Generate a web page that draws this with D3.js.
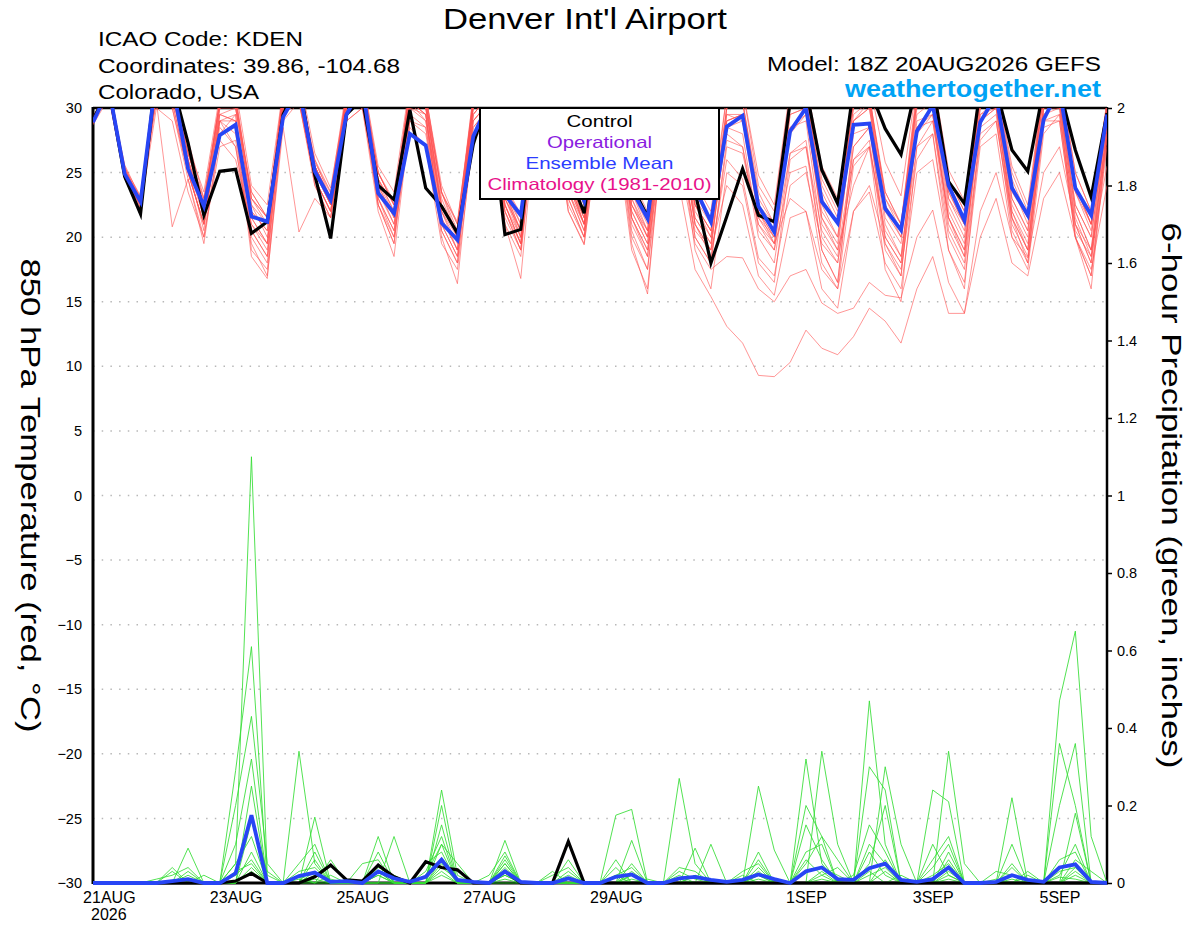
<!DOCTYPE html>
<html><head><meta charset="utf-8">
<script src="https://cdn.jsdelivr.net/npm/d3@7"></script>
<style>
body{margin:0;background:#fff}
svg{display:block}
text{font-family:"Liberation Sans",Arial,Helvetica,sans-serif}
</style>
</head><body>
<svg id="c" width="1200" height="927"></svg>
<script>
// ---------------- DATA ----------------
const startTime = "2026-08-20T18:00:00Z";
const stepHours = 6;

const tempControl = [29.1,
 31.5,24.7,21.8, 32.9,32.0,27.3,21.7, 25.1,25.25,20.3,21.2, 29.5,32.0,24.8,19.9,
 29.5,30.7,24.0,22.9, 29.85,23.8,22.4,20.3, 27.2,31.0,20.2,20.6, 31.0,31.0,25.0,21.85,
 31.0,31.0,24.0,21.6, 31.0,30.0,23.5,18.0, 21.6,25.3,21.7,21.2, 30.5,31.5,25.2,22.6,
 31.5,31.5,28.4,26.4, 32.0,32.0,24.3,22.6, 31.5,31.5,26.75,25.1, 31.5,31.5,26.75,23.1, 29.6];

const tempMean = [28.9,
 31.5,24.9,22.75, 32.5,32.0,25.3,22.4, 27.9,28.7,21.6,21.2, 29.3,31.5,25.1,22.9,
 29.5,31.7,23.4,21.85, 28.0,27.1,21.1,19.8, 27.8,30.5,23.3,21.7, 31.0,31.0,25.5,22.8,
 30.5,31.0,23.7,21.45, 30.5,30.2,23.8,21.2, 28.55,29.4,22.4,20.4, 28.2,30.0,22.75,21.1,
 28.7,28.8,22.2,20.55, 28.2,30.2,24.0,21.3, 28.9,31.0,23.8,21.7, 29.1,31.5,23.8,21.7, 29.5];

const tempMember01 = [29.0, 31.5,24.8,22.3, 32.5,32.0,26.5,22.8, 30.5,30.8,23.0,21.5, 31.0,32.0,25.8,23.4, 30.8,32.0,25.0,22.8, 31.5,30.5,23.4,21.2, 30.5,32.0,24.0,21.8, 32.5,32.0,25.5,22.6, 32.0,32.5,24.5,22.0, 32.0,31.5,24.2,22.0, 31.0,31.5,24.8,22.5, 31.5,32.0,25.5,23.0, 31.5,32.0,25.8,23.2, 32.0,32.5,25.2,22.8, 32.0,32.0,25.5,22.5, 32.0,32.5,25.0,22.0, 30.5];
const tempMember02 = [29.2, 31.0,25.2,22.6, 31.5,31.0,25.8,22.0, 29.5,29.0,22.0,20.5, 30.5,31.5,25.0,22.5, 30.0,31.5,24.2,21.8, 30.5,29.5,22.0,20.0, 29.5,31.0,23.0,20.5, 31.5,31.5,24.5,21.5, 31.0,31.5,23.0,20.5, 30.5,30.0,22.5,20.5, 30.0,30.5,23.5,21.0, 30.5,31.0,24.0,21.5, 30.0,30.5,23.5,21.0, 30.5,31.0,23.5,21.0, 30.5,31.0,24.0,21.5, 31.0,31.0,24.0,21.0, 29.5];
const tempMember03 = [28.8, 31.2,24.6,22.9, 30.5,20.8,24.5,20.0, 27.0,27.5,20.5,18.5, 29.5,31.0,25.5,23.0, 29.5,31.0,23.0,20.5, 29.0,28.0,21.0,18.5, 28.0,30.0,22.0,19.5, 31.0,30.5,23.5,20.5, 30.5,30.0,21.0,18.5, 29.0,28.5,21.0,19.0, 29.0,29.5,22.0,19.5, 29.5,30.0,21.5,19.5, 29.0,30.0,22.5,20.0, 29.5,30.5,22.5,20.0, 30.0,30.5,23.0,20.5, 30.0,30.5,22.5,20.0, 29.0];
const tempMember04 = [29.0, 31.5,25.0,22.7, 32.0,31.5,26.0,21.5, 29.0,28.0,21.0,19.5, 30.5,31.5,24.5,22.0, 30.5,31.5,23.8,21.0, 30.0,29.0,22.5,20.5, 29.0,30.5,23.5,20.5, 31.0,31.0,24.0,21.0, 30.0,30.5,21.5,19.0, 27.0,24.0,17.5,15.4, 13.1,11.8,9.3,9.2, 10.3,12.8,11.4,10.9, 12.3,14.5,13.5,11.8, 16.0,18.5,14.1,14.1, 20.0,23.0,18.0,17.0, 23.0,25.0,20.0,17.5, 24.0];
const tempMember05 = [29.1, 31.0,25.5,22.5, 31.0,30.5,25.0,21.0, 28.5,27.0,20.0,18.0, 30.0,30.5,25.5,22.5, 29.5,30.5,22.5,19.5, 29.5,28.5,21.5,19.0, 28.5,30.0,22.0,19.0, 30.5,31.0,23.0,20.0, 29.5,29.5,20.5,17.5, 27.5,26.0,19.5,17.5, 18.5,18.4,16.0,15.0, 17.0,17.5,14.9,14.1, 14.5,16.5,15.5,15.3, 20.0,22.1,16.5,14.1, 22.0,25.0,20.0,18.4, 25.0,27.0,21.0,19.0, 25.5];
const tempMember06 = [28.9, 31.8,25.4,23.2, 33.0,32.5,27.0,23.5, 31.0,31.5,24.0,22.5, 31.5,32.5,26.5,23.8, 31.0,32.5,25.5,23.5, 32.0,31.0,24.0,21.0, 30.5,32.0,23.5,21.0, 32.0,32.5,25.0,22.0, 32.0,32.0,23.5,21.0, 31.0,30.5,23.5,21.5, 28.0,27.0,21.0,19.0, 28.5,29.5,22.0,20.0, 29.0,30.5,21.5,19.5, 30.5,31.0,23.5,21.0, 31.0,31.5,24.0,21.5, 31.5,31.5,23.5,21.0, 30.0];
const tempMember07 = [29.0, 31.0,24.5,22.0, 31.0,30.0,24.5,19.5, 28.0,29.5,19.0,17.5, 29.0,30.5,24.0,21.5, 29.8,30.5,22.5,20.0, 30.5,29.5,20.5,18.0, 29.0,30.5,21.0,18.5, 30.0,30.5,22.5,20.0, 30.5,30.0,20.0,17.5, 29.5,29.0,21.0,18.5, 26.0,24.5,18.4,17.0, 24.0,25.0,19.5,18.0, 26.0,27.0,20.5,18.5, 28.0,29.5,21.0,18.5, 29.5,30.5,22.0,19.0, 30.0,30.0,21.5,18.5, 28.5];
const tempMember08 = [29.3, 31.4,25.0,23.0, 32.0,31.5,26.5,22.5, 30.0,30.0,22.5,21.0, 31.0,32.0,26.0,23.5, 31.5,32.5,25.0,22.5, 31.0,30.0,22.5,20.5, 30.0,31.5,23.0,20.0, 31.5,31.5,24.5,21.0, 31.5,31.5,22.5,20.0, 30.5,30.5,22.0,20.0, 29.5,29.0,22.5,20.5, 29.5,30.0,21.0,19.0, 29.5,30.5,22.5,20.5, 30.5,31.5,23.0,20.5, 31.0,31.5,23.5,21.5, 31.5,32.0,24.0,21.0, 30.0];
const tempMember09 = [28.7, 30.8,24.5,22.5, 31.5,30.0,25.0,21.0, 29.0,27.0,19.5,17.0, 28.5,20.4,23.0,21.5, 29.0,30.0,23.0,20.0, 28.5,27.0,19.5,17.5, 27.5,29.0,21.5,19.0, 29.5,30.0,22.0,19.5, 29.0,28.5,19.0,16.0, 28.5,27.5,20.0,18.0, 27.5,27.0,20.0,18.0, 26.5,27.5,19.0,16.5, 28.0,28.5,19.5,17.0, 28.5,29.0,20.5,18.0, 28.0,29.0,21.5,19.0, 29.0,29.5,20.5,18.5, 28.0];
const tempMember10 = [29.0, 31.2,25.1,22.8, 32.0,31.0,27.5,23.0, 30.5,30.0,23.5,21.5, 30.5,31.0,26.0,23.0, 30.5,31.5,25.0,22.5, 31.5,30.0,23.0,20.0, 30.0,31.0,22.5,19.5, 32.0,32.0,26.0,22.5, 31.5,31.0,22.0,19.5, 30.0,29.5,22.5,20.0, 30.0,30.5,23.0,21.0, 31.0,31.5,23.0,21.0, 30.5,31.0,23.0,20.5, 31.0,31.5,24.5,22.0, 31.0,31.5,24.0,21.0, 31.0,30.5,22.0,19.0, 29.5];
const tempMember11 = [29.1, 31.6,24.9,22.4, 32.5,31.5,26.0,22.0, 27.5,26.0,21.0,19.0, 30.0,31.0,24.5,22.0, 30.5,31.0,24.0,21.5, 30.5,29.0,21.0,18.5, 29.0,30.5,22.5,19.5, 31.0,31.5,23.5,21.0, 30.5,31.0,22.5,20.0, 28.0,27.0,20.5,19.0, 24.0,22.5,17.0,15.5, 21.5,22.0,17.5,16.0, 22.0,24.0,19.5,17.5, 26.0,28.0,20.0,17.5, 27.5,29.0,21.0,18.5, 28.5,29.0,20.0,17.0, 27.0];
const tempMember12 = [28.9, 31.3,25.3,22.9, 33.0,32.0,27.0,22.5, 30.5,31.0,23.0,21.0, 31.5,32.0,25.5,23.0, 31.0,32.0,24.5,22.0, 31.5,31.0,23.5,20.5, 31.0,32.0,24.0,21.0, 32.5,32.5,25.5,22.5, 32.0,32.5,24.0,21.5, 31.5,31.0,23.0,21.0, 31.0,31.5,24.0,22.0, 31.0,32.0,24.5,22.0, 30.0,31.0,23.5,21.0, 31.5,32.0,24.5,22.0, 31.5,32.0,25.0,22.0, 32.0,32.5,25.0,22.0, 30.5];
const tempMember13 = [29.2, 31.1,24.7,22.6, 31.5,31.0,25.5,20.5, 29.5,29.0,21.5,19.5, 30.5,31.5,25.0,22.5, 30.0,31.5,23.5,21.0, 31.0,30.5,22.0,19.0, 30.5,31.5,23.5,20.0, 31.5,32.0,24.0,21.5, 31.0,31.5,23.0,20.0, 29.5,28.0,20.0,18.0, 27.0,26.5,21.0,19.5, 23.0,22.0,16.0,14.5, 22.0,23.5,18.0,16.0, 25.0,26.0,19.0,16.5, 27.0,28.0,20.0,17.5, 28.0,29.5,21.0,18.0, 27.5];
const tempMember14 = [29.0, 31.4,25.0,22.8, 32.0,31.5,26.0,22.5, 29.5,30.0,22.5,20.0, 30.0,31.0,25.5,22.8, 30.5,31.0,24.5,22.0, 30.5,30.0,22.0,19.5, 30.5,31.0,23.5,20.5, 31.0,31.5,24.0,21.0, 31.0,30.5,22.0,19.5, 30.0,29.0,21.0,19.0, 29.0,29.5,22.0,20.0, 28.0,29.5,21.5,19.0, 24.0,27.0,20.0,18.0, 27.0,29.0,21.5,19.0, 29.0,30.0,22.0,19.5, 29.5,30.5,22.0,19.0, 28.5];
const tempMember15 = [28.8, 31.5,25.6,23.0, 32.0,32.0,26.5,23.0, 30.0,30.5,23.5,21.5, 31.0,32.0,25.5,23.0, 31.0,32.0,24.5,22.5, 31.5,30.5,23.5,20.0, 30.0,31.0,22.5,20.0, 31.5,32.0,24.5,21.5, 31.5,31.5,23.5,20.5, 30.0,30.5,22.5,20.5, 29.5,29.5,22.0,20.0, 30.0,31.0,22.5,20.0, 29.0,30.0,22.0,20.0, 30.0,31.0,23.0,21.0, 30.5,31.0,23.0,20.5, 30.5,31.0,23.5,20.5, 29.5];
const tempMember16 = [29.1, 31.0,25.0,22.2, 30.0,29.0,23.5,20.0, 28.0,28.5,18.5,16.8, 29.5,30.5,24.5,22.0, 29.0,30.0,22.0,18.5, 29.0,28.5,20.0,16.4, 28.5,30.0,21.0,16.8, 30.0,30.5,22.0,19.4, 29.0,29.5,19.5,15.6, 28.5,28.0,19.0,16.0, 25.0,24.0,18.0,16.5, 26.0,27.0,19.0,16.5, 27.0,28.5,21.0,18.5, 28.5,29.5,21.5,18.5, 29.0,30.0,21.5,18.0, 29.5,30.0,20.0,16.0, 28.0];
const tempMember17 = [29.0, 31.3,24.8,22.7, 31.5,31.0,25.5,21.5, 30.0,30.5,22.0,20.5, 30.5,31.5,25.0,22.5, 30.5,31.5,24.0,21.5, 31.0,30.5,22.5,20.0, 30.5,31.5,23.0,20.5, 31.5,32.0,24.5,21.0, 31.0,31.5,22.5,20.5, 30.5,30.5,22.5,20.5, 29.0,29.5,21.5,20.0, 28.5,29.0,20.0,18.0, 26.0,27.5,19.0,17.0, 28.5,30.0,22.0,19.5, 30.0,30.5,22.5,20.0, 30.0,31.0,22.5,20.0, 29.0];
const tempMember18 = [29.3, 31.7,25.2,23.1, 32.5,32.0,25.0,21.0, 29.0,29.5,20.5,18.5, 30.0,31.0,24.0,21.5, 30.0,31.0,22.5,19.5, 30.0,29.5,20.5,18.0, 29.5,31.0,22.0,19.0, 31.0,31.5,23.0,20.0, 30.5,31.0,21.5,18.5, 29.5,29.0,21.5,19.5, 28.5,28.0,20.5,19.0, 25.0,25.5,18.0,16.0, 25.5,27.0,17.5,15.0, 27.0,28.0,19.0,16.0, 28.5,29.5,20.5,18.0, 29.0,29.0,20.0,17.0, 28.0];
const tempMember19 = [28.9, 31.0,24.6,22.5, 31.0,30.5,25.0,21.0, 29.0,29.0,21.5,19.5, 30.0,30.5,24.5,22.0, 30.0,31.0,23.0,20.5, 30.5,29.5,21.5,19.0, 29.5,31.0,22.5,19.5, 31.0,31.5,23.5,20.5, 30.5,30.5,21.5,19.0, 29.5,29.5,21.5,19.5, 28.5,29.0,21.5,19.5, 26.5,27.0,20.5,18.5, 27.0,28.5,20.0,18.0, 29.0,29.5,21.5,19.0, 29.5,30.0,21.5,19.0, 30.0,30.5,21.0,18.0, 28.5];
const tempMember20 = [29.0, 31.2,25.3,22.9, 32.5,31.5,26.5,22.5, 30.5,30.5,23.0,21.5, 31.0,32.0,25.5,23.0, 31.0,32.0,25.0,22.5, 31.5,31.0,23.5,21.0, 31.0,32.0,24.0,21.5, 32.0,32.5,25.0,22.0, 32.0,32.0,24.0,21.5, 30.5,30.5,23.5,21.0, 30.0,30.5,22.5,21.0, 30.5,31.5,23.5,21.0, 30.5,31.0,23.0,21.0, 31.0,31.5,24.0,21.5, 31.5,32.0,24.5,21.5, 31.5,32.0,24.0,21.0, 30.0];
const tempMembers = [tempMember01,tempMember02,tempMember03,tempMember04,tempMember05,tempMember06,tempMember07,
 tempMember08,tempMember09,tempMember10,tempMember11,tempMember12,tempMember13,tempMember14,tempMember15,
 tempMember16,tempMember17,tempMember18,tempMember19,tempMember20];

const precipControl = [0,0,0,0,0,0,0,0,0,0.005, 0.025,0,0,0,0.016,0.046,0.008,0.005,0.046,0.016,
 0,0.055,0.04,0.034,0,0,0.03,0,0,0, 0.107,0,0,0,0,0,0,0,0,0, 0,0,0,0,0,0,0,0,0,0,
 0,0,0,0,0,0,0,0,0,0, 0,0,0,0,0];
const precipMean = [0,0,0,0,0,0.005,0.01,0,0,0.025, 0.175,0,0,0.018,0.027,0.003,0.005,0,0.03,0.012,
 0.003,0.016,0.06,0.008,0.003,0,0.03,0.003,0,0, 0.012,0,0,0.016,0.022,0,0,0.012,0.016,0.008,
 0.003,0.008,0.022,0.01,0,0.03,0.04,0.01,0.008,0.038, 0.05,0.008,0.003,0.01,0.04,0,0,0.003,0.02,0.008,
 0.003,0.04,0.048,0.003,0];

const precipMember01 = [0,0,0,0,0,0,0.09,0,0,0.05, 1.10,0.02,0,0,0.17,0,0,0,0,0, 0,0,0.24,0.02,0,0,0,0,0,0, 0,0,0,0,0.05,0,0,0,0,0, 0,0,0,0,0,0.32,0.05,0,0,0.47, 0.1,0,0,0,0,0,0,0,0,0, 0,0.47,0.65,0.12,0];
const precipMember02 = [0,0,0,0,0,0.03,0,0,0,0.29, 0.61,0,0,0.34,0.05,0,0,0,0.12,0, 0,0,0.2,0,0,0,0.11,0,0,0, 0,0,0,0.175,0.19,0,0,0.27,0.05,0, 0,0,0,0,0,0,0.34,0.1,0,0, 0,0,0,0,0.34,0.05,0,0,0,0, 0,0.36,0.2,0,0];
const precipMember03 = [0,0,0,0,0,0.04,0,0,0,0.2, 0.43,0.05,0,0,0,0.06,0,0,0,0.12, 0,0,0.15,0,0,0,0.05,0,0,0, 0.06,0,0,0.06,0,0,0,0,0.09,0, 0,0,0.25,0.085,0,0,0,0,0,0.3, 0.24,0,0,0.24,0.21,0,0,0,0.22,0, 0,0.2,0.36,0,0];
const precipMember04 = [0,0,0,0,0,0,0.02,0,0,0.1, 0.32,0,0,0.05,0.1,0,0,0,0.08,0, 0,0.03,0.12,0,0,0,0.06,0,0,0.03, 0,0,0,0,0.11,0,0,0,0,0.1, 0,0,0.06,0,0,0.2,0.12,0,0,0, 0.3,0.1,0,0,0.08,0,0,0,0,0.03, 0,0,0.18,0,0];
const precipMember05 = [0,0,0,0,0,0,0,0,0,0, 0.16,0.03,0,0,0.03,0,0,0.05,0.06,0, 0,0,0.1,0.05,0,0,0.04,0,0,0, 0.02,0,0,0.04,0,0,0,0.04,0.03,0, 0,0,0.03,0,0,0.15,0.06,0,0,0.1, 0.05,0,0,0.06,0.12,0,0,0,0.05,0, 0,0.06,0.08,0,0];
const precipMember06 = [0,0,0,0,0,0,0,0,0,0.05, 0.12,0,0,0.02,0,0.02,0,0,0.04,0.02, 0,0.05,0.08,0,0,0.02,0.08,0,0,0, 0.03,0,0,0,0.03,0,0,0.02,0,0, 0,0.03,0.05,0,0,0.08,0.1,0,0.02,0.15, 0.08,0,0,0.1,0.02,0,0,0,0.1,0, 0,0,0.06,0.03,0];
const precipMember07 = [0,0,0,0,0.01,0.02,0.04,0,0,0, 0.08,0,0,0,0.06,0,0,0,0.03,0, 0,0,0.06,0,0,0,0.05,0,0,0, 0,0,0,0.02,0.04,0,0,0,0.02,0, 0,0,0.02,0,0,0.05,0.12,0.06,0,0.05, 0.2,0,0,0,0.06,0,0,0.03,0.02,0, 0,0.03,0.04,0,0];
const precipMember08 = [0,0,0,0,0,0,0.03,0,0,0.02, 0.06,0,0,0.03,0.04,0,0,0,0.05,0, 0,0.02,0.1,0,0,0,0.03,0,0,0.02, 0.04,0,0,0,0.02,0,0,0.03,0.01,0, 0,0,0.08,0,0,0.03,0.04,0.02,0,0.08, 0.02,0,0,0.04,0.1,0,0,0,0.04,0, 0,0.02,0.1,0,0];
const precipMember09 = [0,0,0,0,0,0,0,0,0,0, 0.04,0,0,0,0.02,0.01,0,0,0.02,0, 0,0,0.04,0.01,0,0,0.02,0,0,0, 0,0,0,0,0.01,0,0,0,0.02,0, 0,0,0.01,0,0,0,0.03,0,0,0.02, 0.04,0,0,0,0.03,0,0,0,0.01,0, 0,0,0.02,0,0];
const precipMember10 = [0,0,0,0,0,0,0,0,0,0.03, 0.05,0,0,0,0.08,0,0,0,0.02,0, 0,0,0.03,0,0,0,0.07,0,0,0, 0.01,0,0,0.02,0,0,0,0.01,0,0, 0,0,0.04,0,0,0.06,0.02,0,0,0, 0.06,0,0,0.02,0.05,0,0,0,0,0.02, 0,0,0.03,0,0];
const precipMember11 = [0,0,0,0,0,0,0,0.02,0,0, 0.25,0,0,0.01,0,0,0,0,0.03,0, 0,0,0.02,0,0,0,0.02,0,0,0, 0,0,0,0,0,0.01,0,0,0,0, 0,0.02,0,0,0,0,0.02,0.04,0,0.03, 0,0.02,0,0,0.01,0,0,0.01,0,0, 0,0.015,0.01,0,0];
const precipMember12 = [0,0,0,0,0,0,0,0,0,0, 0.03,0,0,0,0.01,0,0,0,0,0, 0,0,0.05,0,0,0,0.01,0,0,0, 0,0,0,0,0.02,0,0,0,0,0, 0,0,0.02,0,0,0,0.01,0,0,0, 0.03,0,0,0,0.02,0,0,0,0,0, 0,0,0.04,0,0];
const precipMembers = [precipMember01,precipMember02,precipMember03,precipMember04,precipMember05,precipMember06,
 precipMember07,precipMember08,precipMember09,precipMember10,precipMember11,precipMember12];

const tempTicks = [-30,-25,-20,-15,-10,-5,0,5,10,15,20,25,30];
const precipTicks = [0,0.2,0.4,0.6,0.8,1,1.2,1.4,1.6,1.8,2];
const dateTicks = ["2026-08-21","2026-08-23","2026-08-25","2026-08-27","2026-08-29","2026-09-01","2026-09-03","2026-09-05"];
const dateTickLabels = ["21AUG","23AUG","25AUG","27AUG","29AUG","1SEP","3SEP","5SEP"];
const yearLabel = "2026";
const legendLabels = ["Control","Operational","Ensemble Mean","Climatology (1981-2010)"];
const legendColors = ["#000000","#8a1ce0","#2b3cff","#e8118a"];
const titleText = "Denver Int'l Airport";
const infoLeft = ["ICAO Code: KDEN","Coordinates: 39.86, -104.68","Colorado, USA"];
const modelText = "Model: 18Z 20AUG2026 GEFS";
const siteText = "weathertogether.net";
const leftAxisTitle = "850 hPa Temperature (red, \u00B0C)";
const rightAxisTitle = "6-hour Precipitation (green, inches)";

// ---------------- CHART ----------------
const svg = d3.select("#c");
const M = {l:93, r:1107, t:108, b:883};
const t0 = new Date(startTime);
const times = tempMean.map((_, i) => d3.utcHour.offset(t0, i * stepHours));
const x = d3.scaleUtc().domain([times[0], times[times.length - 1]]).range([M.l, M.r]);
const yT = d3.scaleLinear().domain([-30, 30]).range([M.b, M.t]);
const yP = d3.scaleLinear().domain([0, 2]).range([M.b, M.t]);

svg.append("rect").attr("width",1200).attr("height",927).attr("fill","#fff");

svg.append("defs").append("clipPath").attr("id","clip")
  .append("rect").attr("x",M.l).attr("y",M.t).attr("width",M.r-M.l).attr("height",M.b-M.t+3);

// gridlines
svg.append("g").selectAll("line")
  .data(tempTicks.filter(v => v > -30 && v < 30)).join("line")
  .attr("x1",M.l).attr("x2",M.r)
  .attr("y1",d => yT(d)).attr("y2",d => yT(d))
  .attr("stroke","#b8b8b8").attr("stroke-width",1.5).attr("stroke-dasharray","1.5,7.2");

// frame
const frame = svg.append("g").attr("stroke","#000");
frame.append("line").attr("x1",M.l).attr("x2",M.l).attr("y1",M.t-1).attr("y2",M.b+1).attr("stroke-width",3);
frame.append("line").attr("x1",M.l).attr("x2",M.r+1).attr("y1",M.b).attr("y2",M.b).attr("stroke-width",3.2);
frame.append("line").attr("x1",M.l).attr("x2",M.r).attr("y1",M.t).attr("y2",M.t).attr("stroke-width",2.5);
frame.append("line").attr("x1",M.r).attr("x2",M.r).attr("y1",M.t-1).attr("y2",M.b+1).attr("stroke-width",2.5);

const lineT = d3.line().x((d,i) => x(times[i])).y(d => yT(d));
const lineP = d3.line().x((d,i) => x(times[i])).y(d => yP(d));
const plot = svg.append("g").attr("clip-path","url(#clip)").attr("fill","none").attr("stroke-linejoin","miter");

plot.selectAll(".tm").data(tempMembers).join("path").attr("class","tm")
  .attr("d",lineT).attr("stroke","#ff5050").attr("stroke-width",0.75).attr("stroke-opacity",0.8);
plot.selectAll(".pm").data(precipMembers).join("path").attr("class","pm")
  .attr("d",lineP).attr("stroke","#33dd33").attr("stroke-width",0.85);

plot.append("path").datum(precipControl).attr("d",lineP).attr("stroke","#000").attr("stroke-width",3.2);
plot.append("path").datum(precipMean).attr("d",lineP).attr("stroke","#2745f5").attr("stroke-width",3.8);
plot.append("path").datum(tempControl).attr("d",lineT).attr("stroke","#000").attr("stroke-width",3.2);
plot.append("path").datum(tempMean).attr("d",lineT).attr("stroke","#2745f5").attr("stroke-width",3.8);

// axes
const FONT = '"Liberation Sans",Arial,sans-serif';
const gL = svg.append("g").attr("transform",`translate(${M.l},0)`)
  .call(d3.axisLeft(yT).tickValues(tempTicks).tickSize(0).tickPadding(11).tickFormat(d3.format("d")));
gL.select(".domain").remove();
gL.attr("font-family",FONT).attr("font-size",14.5);
gL.selectAll("text").attr("fill","#000");

const gR = svg.append("g").attr("transform",`translate(${M.r},0)`)
  .call(d3.axisRight(yP).tickValues(precipTicks).tickSize(5).tickPadding(5).tickFormat(d3.format(".1~f")));
gR.select(".domain").remove();
gR.attr("font-family",FONT).attr("font-size",14.5);
gR.selectAll("line").attr("stroke","#000").attr("stroke-width",1.5);
gR.selectAll("text").attr("fill","#000");

const tickDateObjs = dateTicks.map(s => new Date(s + "T00:00:00Z"));
const gB = svg.append("g").attr("transform",`translate(0,${M.b})`)
  .call(d3.axisBottom(x).tickValues(tickDateObjs).tickSize(0).tickPadding(9).tickFormat((d,i) => dateTickLabels[i]));
gB.select(".domain").remove();
gB.attr("font-family",FONT).attr("font-size",16);
gB.selectAll("text").attr("fill","#000");
svg.append("text").attr("x",x(tickDateObjs[0])).attr("y",920).attr("text-anchor","middle")
  .attr("font-size",16).text(yearLabel);

// text helper
function txt(s, xx, yy, size, len, anchor, color, weight) {
  const t = svg.append("text").attr("x",xx).attr("y",yy).attr("font-size",size)
    .attr("text-anchor",anchor || "start").attr("fill",color || "#000")
    .attr("font-weight",weight || "normal").text(s);
  if (len) t.attr("textLength",len).attr("lengthAdjust","spacingAndGlyphs");
  return t;
}

txt(titleText, 585, 29, 29, 284, "middle");
txt(infoLeft[0], 98, 46, 20, 205);
txt(infoLeft[1], 98, 72.5, 20, 302);
txt(infoLeft[2], 98, 99, 20, 161);
txt(modelText, 1101, 70.5, 20, 334, "end");
txt(siteText, 1101, 97, 23, 256, "end", "#00a3f5", "bold");

// axis titles (rotated)
svg.append("text").attr("transform","translate(21,495.5) rotate(90)")
  .attr("text-anchor","middle").attr("font-size",28)
  .attr("textLength",474).attr("lengthAdjust","spacingAndGlyphs").text(leftAxisTitle);
svg.append("text").attr("transform","translate(1162,495.5) rotate(90)")
  .attr("text-anchor","middle").attr("font-size",28)
  .attr("textLength",546).attr("lengthAdjust","spacingAndGlyphs").text(rightAxisTitle);

// legend
svg.append("rect").attr("x",480).attr("y",M.t).attr("width",239).attr("height",91)
  .attr("fill","#fff").attr("stroke","#000").attr("stroke-width",2);
const legendLens = [66, 105, 148, 224];
legendLabels.forEach((s, i) => {
  txt(s, 599.5, 126.5 + i * 21.2, 16.5, legendLens[i], "middle", legendColors[i]);
});
</script>
</body></html>
